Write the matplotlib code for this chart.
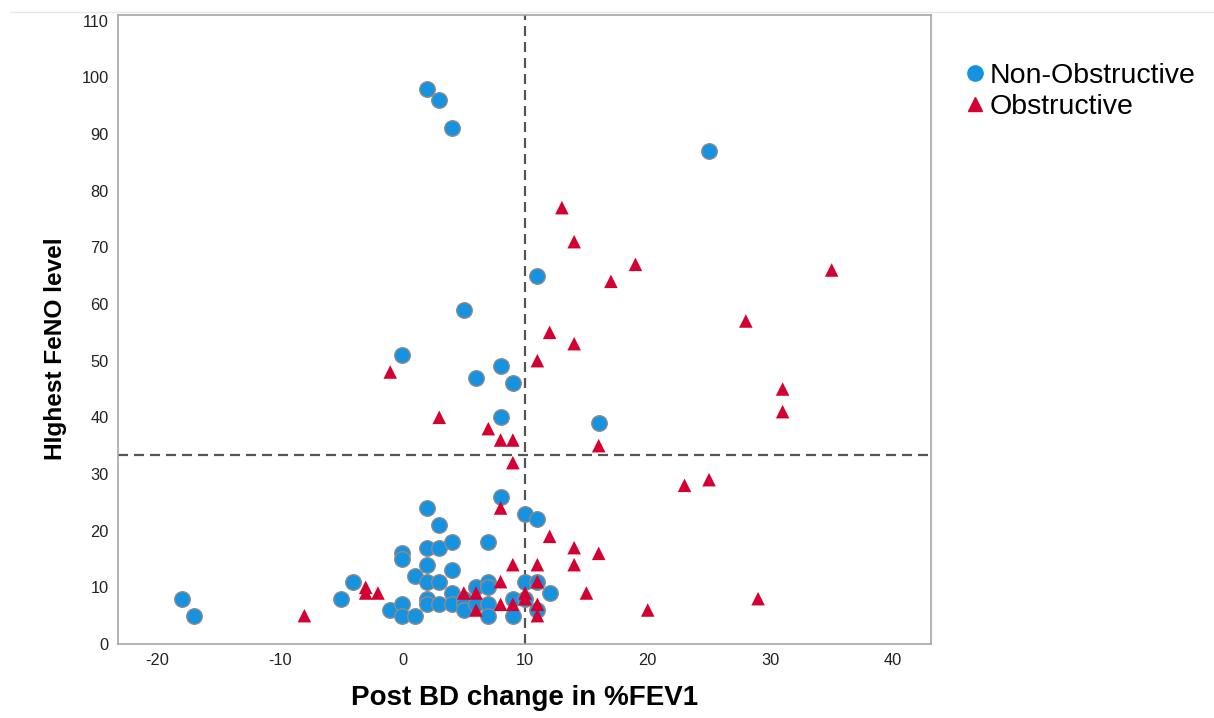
import matplotlib
matplotlib.use('Agg')
import matplotlib.pyplot as plt
from matplotlib.lines import Line2D

plt.rcParams['font.family'] = ['Liberation Sans', 'DejaVu Sans']
plt.rcParams['axes.unicode_minus'] = False

# Non-Obstructive group (post BD change in %FEV1, highest FeNO)
non_obs_x = [-18, -17, -5, -4, -1, 0, 0, 0, 0, 0, 1, 1, 2, 2, 2, 2, 2, 2, 2,
             3, 3, 3, 3, 3, 4, 4, 4, 4, 4, 5, 5, 5, 5, 6, 6, 6, 7, 7, 7, 7, 7,
             8, 8, 8, 9, 9, 9, 10, 10, 10, 11, 11, 11, 11, 12, 16, 25]
non_obs_y = [8, 5, 8, 11, 6, 7, 5, 16, 15, 51, 5, 12, 98, 24, 17, 14, 11, 8, 7,
             96, 21, 17, 11, 7, 91, 18, 13, 9, 7, 59, 8, 7, 6, 47, 10, 7, 18, 11, 10, 7, 5,
             49, 40, 26, 46, 8, 5, 23, 11, 8, 65, 22, 11, 6, 9, 39, 87]

# Obstructive group
obs_x = [-8, -3, -3, -2, -1, 3, 5, 6, 6, 7, 8, 9, 9, 8, 8, 8, 9, 9, 10, 10,
         11, 11, 11, 11, 11, 12, 12, 13, 14, 14, 14, 14, 15, 16, 16, 17, 19,
         20, 23, 25, 28, 29, 31, 31, 35]
obs_y = [5, 10, 9, 9, 48, 40, 9, 9, 6, 38, 36, 36, 32, 24, 11, 7, 14, 7, 9, 8,
         14, 11, 7, 5, 50, 55, 19, 77, 71, 53, 17, 14, 9, 35, 16, 64, 67,
         6, 28, 29, 57, 8, 45, 41, 66]

# reference lines
x_cut = 10
y_cut = 33.4

x_ticks = [-20, -10, 0, 10, 20, 30, 40]
y_ticks = list(range(0, 111, 10))

blue = '#1592e0'
red = '#d50032'

fig = plt.figure(figsize=(12.14, 7.18), dpi=100)
ax = fig.add_axes([118/1214, 1-644/718, (931-118)/1214, (644-15)/718])

ax.scatter(non_obs_x, non_obs_y, s=125, marker='o', facecolor=blue,
           edgecolor='#8c8c8c', linewidth=1.0, zorder=3)
ax.scatter(obs_x, obs_y, s=95, marker='^', facecolor=red,
           edgecolor='none', zorder=4)

ax.axhline(y_cut, color='#555555', lw=1.6, dashes=(4.5, 2.7), zorder=2)
ax.axvline(x_cut, color='#555555', lw=1.6, dashes=(4.5, 2.7), zorder=2)

ax.set_xlim(-23.2, 43.1)
ax.set_ylim(0, 111)
ax.set_xticks(x_ticks)
ax.set_yticks(y_ticks)
ax.tick_params(length=0, labelsize=11.8, colors='#222222', pad=6.5)

for sp in ax.spines.values():
    sp.set_color('#a6a6a6')
    sp.set_linewidth(1.2)

ax.set_xlabel('Post BD change in %FEV1', fontsize=20, fontweight='bold')
ax.set_ylabel('HIghest FeNO level', fontsize=17.6, fontweight='bold')
ax.xaxis.set_label_coords(0.5, -0.065)
ax.yaxis.set_label_coords(-0.063, 0.47)

handles = [Line2D([], [], marker='o', ls='none', markersize=11, markerfacecolor=blue,
                  markeredgecolor=blue),
           Line2D([], [], marker='^', ls='none', markersize=10, markerfacecolor=red,
                  markeredgecolor=red)]
fig.legend(handles, ['Non-Obstructive', 'Obstructive'], loc='upper left',
           bbox_to_anchor=(966/1214, 1-63/718), frameon=False, fontsize=20.5,
           handlelength=0.6, handletextpad=0.23, labelspacing=0.18,
           borderaxespad=0, borderpad=0)

# faint frame line at the top of the output
fig.add_artist(Line2D([10/1214, 1], [1-12/718, 1-12/718], color='#e8e8e8', lw=1))

fig.savefig('out.png', dpi=100)
